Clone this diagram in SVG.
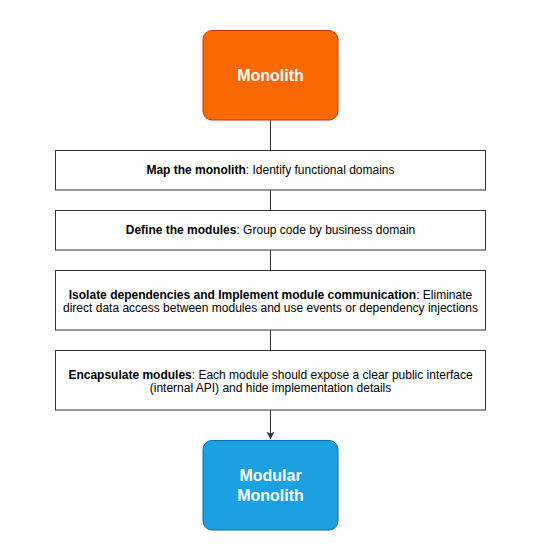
<svg xmlns="http://www.w3.org/2000/svg" width="541" height="551" viewBox="0 0 541 551">
<style>
.step{fill:#ffffff;stroke:#333333;stroke-width:1}
.txt{font-family:"Liberation Sans",Arial,sans-serif;font-size:12px;fill:#000000;text-anchor:middle}
.big{font-family:"Liberation Sans",Arial,sans-serif;font-size:16px;font-weight:bold;fill:#ffffff;text-anchor:middle}
.b{font-weight:bold}
.conn{stroke:#333333;stroke-width:1;fill:none}
</style>
<defs>
<marker id="arr" markerWidth="8" markerHeight="8" refX="7" refY="3.5" orient="auto" markerUnits="userSpaceOnUse">
<path d="M0,0 L7,3.5 L0,7 L2,3.5 Z" fill="#333333" stroke="#333333" stroke-width="0.5"/>
</marker>
</defs>
<rect width="541" height="551" fill="#ffffff"/>
<g id="connectors">
<line class="conn" x1="270.5" y1="120" x2="270.5" y2="150"/>
<line class="conn" x1="270.5" y1="190" x2="270.5" y2="210"/>
<line class="conn" x1="270.5" y1="250" x2="270.5" y2="270"/>
<line class="conn" x1="270.5" y1="330" x2="270.5" y2="350"/>
<line class="conn" x1="270.5" y1="410" x2="270.5" y2="439" marker-end="url(#arr)"/>
</g>
<g id="monolith">
<rect x="203" y="30.5" width="135" height="89.5" rx="9" ry="9" fill="#fa6800" stroke="#c73500"/>
<text class="big" x="270.5" y="80.7">Monolith</text>
</g>
<g id="step1">
<rect class="step" x="55.5" y="150.5" width="430" height="39.5"/>
<text class="txt" x="270.5" y="174"><tspan class="b">Map the monolith</tspan>: Identify functional domains</text>
</g>
<g id="step2">
<rect class="step" x="55.5" y="210.5" width="430" height="39.5"/>
<text class="txt" x="270.5" y="234"><tspan class="b">Define the modules</tspan>: Group code by business domain</text>
</g>
<g id="step3">
<rect class="step" x="55.5" y="270.5" width="430" height="59.5"/>
<text class="txt" x="270.5" y="298.5"><tspan class="b">Isolate dependencies and Implement module communication</tspan>: Eliminate</text>
<text class="txt" x="270.5" y="312.3">direct data access between modules and use events or dependency injections</text>
</g>
<g id="step4">
<rect class="step" x="55.5" y="350.5" width="430" height="59.5"/>
<text class="txt" x="270.5" y="378.5"><tspan class="b">Encapsulate modules</tspan>: Each module should expose a clear public interface</text>
<text class="txt" x="270.5" y="392.3">(internal API) and hide implementation details</text>
</g>
<g id="modular-monolith">
<rect x="203" y="440.5" width="135" height="89.5" rx="9" ry="9" fill="#1ba1e2" stroke="#006eaf"/>
<text class="big" x="270.5" y="481">Modular</text>
<text class="big" x="270.5" y="500.5">Monolith</text>
</g>
</svg>
